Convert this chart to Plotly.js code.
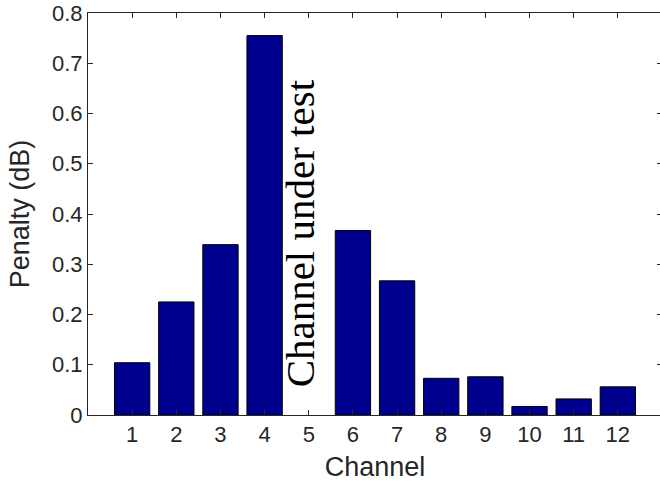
<!DOCTYPE html>
<html>
<head>
<meta charset="utf-8">
<script src="https://cdn.plot.ly/plotly-3.0.1.min.js"></script>
<style>
html,body{margin:0;padding:0;overflow:hidden;background:#fff;width:660px;height:486px;}
#chart{width:664px;height:486px;}
</style>
</head>
<body>
<div id="chart"></div>
<script>
const channels = [1,2,3,4,5,6,7,8,9,10,11,12];
const penalty = [0.104,0.225,0.339,0.755,null,0.367,0.267,0.073,0.076,0.017,0.032,0.056];
const xTickLabels = ["1","2","3","4","5","6","7","8","9","10","11","12"];
const yTicks = [0,0.1,0.2,0.3,0.4,0.5,0.6,0.7,0.8];
const yTickLabels = ["0","0.1","0.2","0.3","0.4","0.5","0.6","0.7","0.8"];
const testChannel = 5;
const noteText = "Channel under test";

const axisFont = {family:"Liberation Sans, Arial, sans-serif", size:22, color:"#262626"};
const titleFont = {family:"Liberation Sans, Arial, sans-serif", size:27, color:"#262626"};

Plotly.newPlot("chart", [{
  type:"bar",
  x:channels,
  y:penalty,
  marker:{color:"#00008F", line:{color:"#000000", width:1}},
  hoverinfo:"x+y"
}], {
  width:664, height:486,
  margin:{l:88, r:2, t:13, b:71, pad:0},
  paper_bgcolor:"#ffffff", plot_bgcolor:"#ffffff",
  bargap:0.2,
  showlegend:false,
  xaxis:{
    range:[0,13], tickvals:channels, ticktext:xTickLabels,
    ticks:"inside", ticklen:5, tickcolor:"#262626", tickwidth:1,
    showline:true, linecolor:"#262626", linewidth:1, mirror:"ticks",
    showgrid:false, zeroline:false, tickfont:axisFont,
    title:{text:"Channel", font:titleFont, standoff:10}
  },
  yaxis:{
    range:[0,0.8], tickvals:yTicks, ticktext:yTickLabels,
    ticks:"inside", ticklen:5, tickcolor:"#262626", tickwidth:1,
    showline:true, linecolor:"#262626", linewidth:1, mirror:"ticks",
    showgrid:false, zeroline:false, tickfont:axisFont,
    title:{text:"Penalty (dB)", font:titleFont, standoff:14}
  },
  annotations:[{
    x:testChannel, y:0.361, xref:"x", yref:"y", xshift:-9,
    text:noteText, textangle:-90, showarrow:false,
    font:{family:"Liberation Serif, Times New Roman, serif", size:41, color:"#000000"}
  }]
}, {displayModeBar:false, staticPlot:true});
</script>
</body>
</html>
